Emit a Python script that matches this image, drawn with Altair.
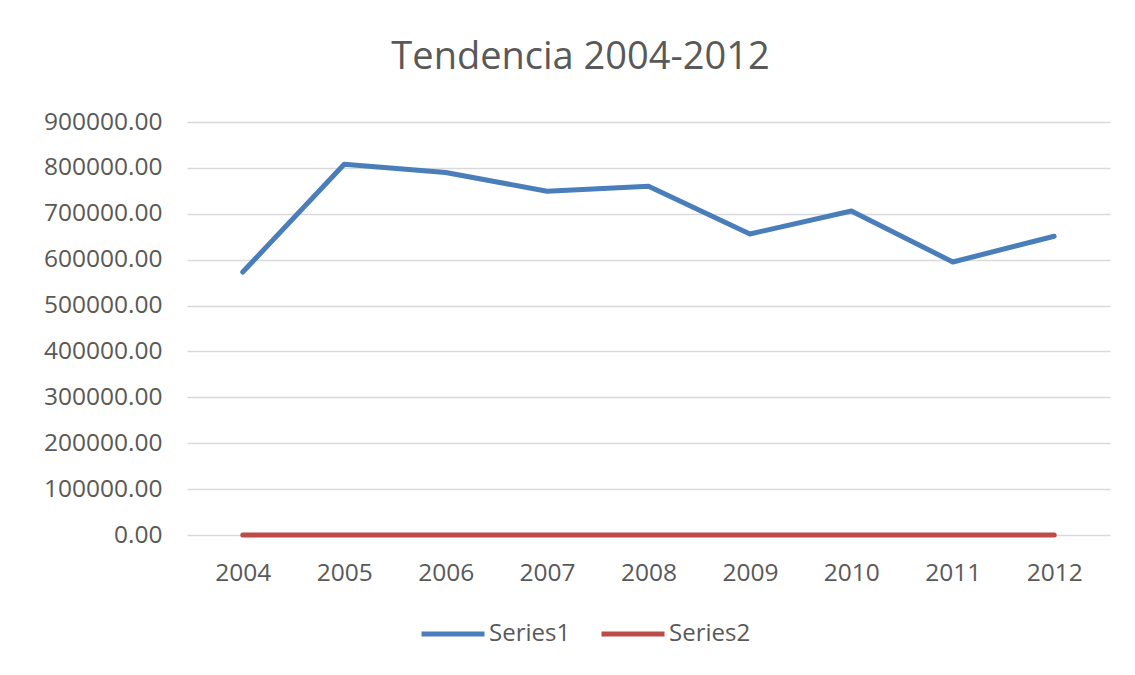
import altair as alt
import pandas as pd

years = ["2004", "2005", "2006", "2007", "2008", "2009", "2010", "2011", "2012"]
series1 = [573000, 808000, 790000, 749000, 760000, 656000, 706000, 595000, 651000]
series2 = [0, 0, 0, 0, 0, 0, 0, 0, 0]
series_names = ["Series1", "Series2"]
series_colors = ["#4A7EBB", "#BE4B48"]

rows = []
for y, v in zip(years, series1):
    rows.append({"Year": y, "Value": v, "Series": "Series1"})
for y, v in zip(years, series2):
    rows.append({"Year": y, "Value": v, "Series": "Series2"})
df = pd.DataFrame(rows)

FONT = "Open Sans"
GREY = "#595959"

chart = alt.Chart(df).mark_line(strokeWidth=5, strokeCap="round", strokeJoin="round").encode(
    x=alt.X("Year:N", sort=years, title=None,
            scale=alt.Scale(type="point", padding=0.55),
            axis=alt.Axis(labelAngle=0, ticks=False, domain=False, grid=False,
                          labelFontSize=24.5, labelColor=GREY, labelFont=FONT, labelPadding=26)),
    y=alt.Y("Value:Q", title=None,
            scale=alt.Scale(domain=[0, 900000], nice=False),
            axis=alt.Axis(values=[0, 100000, 200000, 300000, 400000, 500000, 600000, 700000, 800000, 900000],
                          format=".2f", ticks=False, domain=False,
                          gridColor="#D9D9D9", gridWidth=1.3,
                          labelFontSize=24.5, labelColor=GREY, labelFont=FONT, labelPadding=25)),
    color=alt.Color("Series:N", sort=series_names,
                    scale=alt.Scale(domain=series_names, range=series_colors),
                    legend=alt.Legend(title=None, orient="none", direction="horizontal",
                                      legendX=232, legendY=478,
                                      symbolType="stroke", symbolSize=3969, symbolStrokeWidth=5,
                                      labelFontSize=24, labelColor=GREY, labelFont=FONT,
                                      labelOffset=2, columnPadding=20)),
    order=alt.Order("Series:N", sort="descending"),
).properties(
    width=923,
    height=413,
    title=alt.TitleParams("Tendencia 2004-2012", fontSize=38, color=GREY, font=FONT,
                          fontWeight="normal", anchor="middle", dx=-68, offset=-6,
                          baseline="bottom"),
    autosize=alt.AutoSizeParams(type="none"),
    padding={"left": 179, "top": 114, "right": 17, "bottom": 132},
).configure_view(stroke=None)

chart.save("out.html", embed_options={"renderer": "svg", "actions": False})
